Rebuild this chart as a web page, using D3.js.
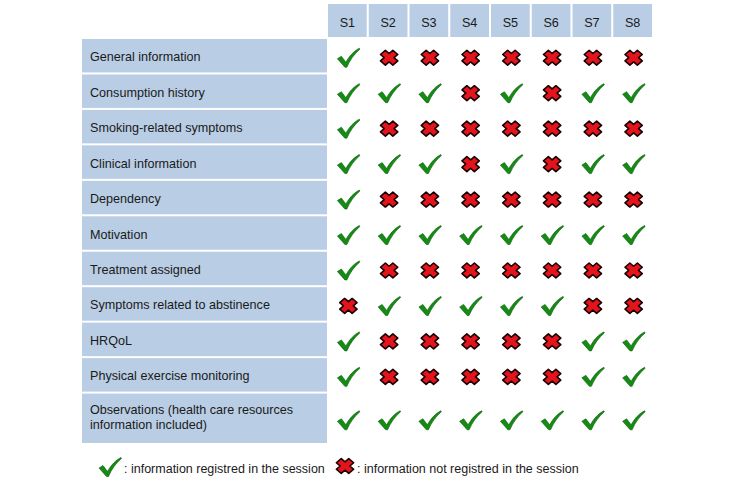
<!DOCTYPE html>
<html>
<head>
<meta charset="utf-8">
<script src="https://cdn.jsdelivr.net/npm/d3@7"></script>
<style>
body { margin: 0; background: #fff; }
text { font-family: Arial, "Liberation Sans", sans-serif; }
</style>
</head>
<body>
<svg id="chart" width="733" height="484"></svg>
<script>

var sessions = ["S1", "S2", "S3", "S4", "S5", "S6", "S7", "S8"];

var items = [
	"General information",
	"Consumption history",
	"Smoking-related symptoms",
	"Clinical information",
	"Dependency",
	"Motivation",
	"Treatment assigned",
	"Symptoms related to abstinence",
	"HRQoL",
	"Physical exercise monitoring",
	"Observations (health care resources\ninformation included)"
];

// 1 = registred, 0 = not registred
var registred = [
	[1, 0, 0, 0, 0, 0, 0, 0],
	[1, 1, 1, 0, 1, 0, 1, 1],
	[1, 0, 0, 0, 0, 0, 0, 0],
	[1, 1, 1, 0, 1, 0, 1, 1],
	[1, 0, 0, 0, 0, 0, 0, 0],
	[1, 1, 1, 1, 1, 1, 1, 1],
	[1, 0, 0, 0, 0, 0, 0, 0],
	[0, 1, 1, 1, 1, 1, 0, 0],
	[1, 0, 0, 0, 0, 0, 1, 1],
	[1, 0, 0, 0, 0, 0, 1, 1],
	[1, 1, 1, 1, 1, 1, 1, 1]
];

var legendLabels = [": information registred in the session", ": information not registred in the session"];

var svg = d3.select("#chart");
var cellFill = "#b9cde5";
var fontSize = "12.6px";

var x = d3.scaleBand()
	.domain(sessions)
	.range([327, 653])
	.paddingInner(0.05)
	.paddingOuter(0.025);

// rows with two lines of text are taller
var units = items.map(function (d) { return d.indexOf("\n") >= 0 ? 1.45 : 1; });
var cum = [0];
units.forEach(function (u, i) { cum.push(cum[i] + u); });

var y = d3.scaleLinear()
	.domain([0, cum[cum.length - 1]])
	.range([38, 444]);

var checkPath = "M-11,1 L-7,-1.5 L-2.5,4.5 C1,-2 6,-7 11,-9.5 L11.5,-8.5 C6,-4 1.5,2.5 -1.5,9.5 L-3.5,9.5 Z";

var crossPath = (function () {
	var a = 3.4, L = 8.6;
	var pts = [[a,-L],[a,-a],[L,-a],[L,a],[a,a],[a,L],[-a,L],[-a,a],[-L,a],[-L,-a],[-a,-a],[-a,-L]];
	var c = Math.SQRT1_2;
	return "M" + pts.map(function (p) {
		return [(p[0] - p[1]) * c * 1.02, (p[0] + p[1]) * c * 0.88].map(function (v) { return v.toFixed(2); }).join(",");
	}).join("L") + "Z";
})();

function drawMark(g, ok) {
	if (ok) {
		g.append("path")
		.attr("d", checkPath)
		.attr("fill", "#148c14")
		.attr("stroke", "#0c5a0c")
		.attr("stroke-width", 0.6)
		.attr("stroke-linejoin", "round");
	} else {
		g.append("path")
		.attr("d", crossPath)
		.attr("fill", "#e3141c")
		.attr("stroke", "#1a0000")
		.attr("stroke-width", 1.6)
		.attr("stroke-linejoin", "round");
	}
}

// Header

var header = svg.append("g").selectAll("g")
	.data(sessions)
	.enter().append("g");

header.append("rect")
	.attr("x", function (d) { return x(d); })
	.attr("y", 4)
	.attr("width", x.bandwidth())
	.attr("height", 33)
	.attr("fill", cellFill);

header.append("text")
	.attr("x", function (d) { return x(d) + x.bandwidth() / 2; })
	.attr("y", 26.5)
	.attr("text-anchor", "middle")
	.style("font-size", fontSize)
	.attr("fill", "#1a1a1a")
	.text(function (d) { return d; });

// Rows

var rows = svg.append("g").selectAll("g")
	.data(items)
	.enter().append("g");

rows.append("rect")
	.attr("x", 82)
	.attr("y", function (d, i) { return y(cum[i]) + 1; })
	.attr("width", 245)
	.attr("height", function (d, i) { return y(cum[i + 1]) - y(cum[i]) - 2; })
	.attr("fill", cellFill);

rows.append("text")
	.attr("y", function (d, i) {
		var n = d.split("\n").length;
		return (y(cum[i]) + y(cum[i + 1])) / 2 + 5.5 - (n - 1) * 9.5;
	})
	.style("font-size", fontSize)
	.attr("fill", "#1a1a1a")
	.each(function (d) {
		var t = d3.select(this);
		d.split("\n").forEach(function (line, k) {
			t.append("tspan")
			.attr("x", 90)
			.attr("dy", k == 0 ? 0 : 14.5)
			.text(line);
		});
	});

rows.each(function (d, i) {
	var cy = (y(cum[i]) + y(cum[i + 1])) / 2 + 2;
	var row = d3.select(this);
	registred[i].forEach(function (v, j) {
		var g = row.append("g")
		.attr("transform", "translate(" + (x(sessions[j]) + x.bandwidth() / 2 + 1) + "," + cy + ")");
		drawMark(g, v == 1);
	});
});

// Legend

var legend = svg.append("g").attr("transform", "translate(0,467)");

var lg1 = legend.append("g").attr("transform", "translate(110,0)");
drawMark(lg1, true);
legend.append("text")
	.attr("x", 124).attr("y", 5.5)
	.style("font-size", "12.5px").attr("fill", "#1a1a1a")
	.text(legendLabels[0]);

var lg2 = legend.append("g").attr("transform", "translate(345,-1)");
drawMark(lg2, false);
legend.append("text")
	.attr("x", 357).attr("y", 5.5)
	.style("font-size", "12.5px").attr("fill", "#1a1a1a")
	.text(legendLabels[1]);

</script>
</body>
</html>
